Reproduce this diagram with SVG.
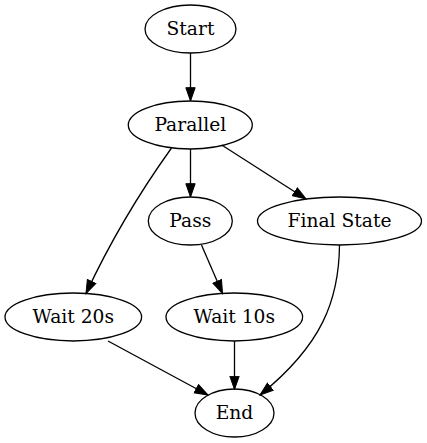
<svg xmlns="http://www.w3.org/2000/svg" width="427" height="443" viewBox="0 0 427 443">
<style>
.n ellipse{fill:none;stroke:#000;stroke-width:1.3}
.n text{font-family:'DejaVu Serif',serif;font-size:18.67px;text-anchor:middle;fill:#000}
.e path{fill:none;stroke:#000;stroke-width:1.3;marker-end:url(#ah)}
</style>
<defs>
<marker id="ah" markerUnits="userSpaceOnUse" markerWidth="15" markerHeight="12" viewBox="0 -6 14 12" refX="13.3" refY="0" orient="auto">
<path d="M0,-4.67 L13.33,0 L0,4.67 z" fill="#000" stroke="#000" stroke-width="1"/>
</marker>
</defs>
<rect width="427" height="443" fill="#fff"/>
<g id="edges" class="e">
<path d="M190.5,53 L190.5,101"/>
<path d="M190.5,149 L190.5,197"/>
<path d="M171.5,148 C150,178 118,225 86,293.5"/>
<path d="M221.7,145 L306,199"/>
<path d="M201.5,245 L222.5,293.5"/>
<path d="M108,341 L208,395"/>
<path d="M234.5,341 L234.5,389.5"/>
<path d="M339.5,245 C339,300 322,345 260,395"/>
</g>
<g id="start" class="n"><ellipse cx="190.5" cy="29" rx="45.5" ry="24"/><text x="190.5" y="34.5">Start</text></g>
<g id="parallel" class="n"><ellipse cx="190.3" cy="125" rx="62" ry="24"/><text x="190.3" y="130.5">Parallel</text></g>
<g id="pass" class="n"><ellipse cx="190.3" cy="221" rx="42" ry="24"/><text x="190.3" y="226.5">Pass</text></g>
<g id="final" class="n"><ellipse cx="339.5" cy="221" rx="82" ry="24"/><text x="339.5" y="226.5">Final State</text></g>
<g id="wait20" class="n"><ellipse cx="73.3" cy="317" rx="68.3" ry="24"/><text x="73.3" y="322.5">Wait 20s</text></g>
<g id="wait10" class="n"><ellipse cx="234.3" cy="317" rx="68.3" ry="24"/><text x="234.3" y="322.5">Wait 10s</text></g>
<g id="end" class="n"><ellipse cx="234.5" cy="413" rx="39.5" ry="24"/><text x="234.5" y="418.5">End</text></g>
</svg>
